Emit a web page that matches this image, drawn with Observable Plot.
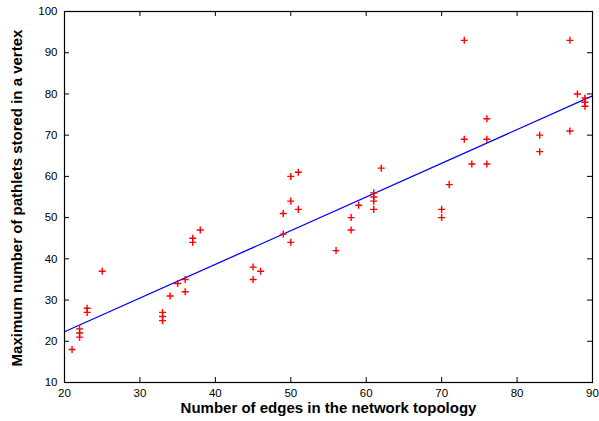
<!DOCTYPE html>
<html>
<head>
<meta charset="utf-8">
<script src="https://cdn.jsdelivr.net/npm/d3@7"></script>
<script src="https://cdn.jsdelivr.net/npm/@observablehq/plot@0.6"></script>
<style>
  html, body { margin: 0; padding: 0; background: #fff; }
</style>
</head>
<body>
<div id="chart"></div>
<script>
// Data
const edges =    [21, 22, 22, 22, 23, 23, 25, 33, 33, 33, 34, 35, 36, 36, 37, 37, 38, 45, 45, 46, 49, 49, 50, 50, 50, 51, 51, 56, 58, 58, 59, 61, 61, 61, 61, 62, 70, 70, 71, 73, 73, 74, 76, 76, 76, 83, 83, 87, 87, 88, 89, 89, 89];
const pathlets = [18, 23, 22, 21, 28, 27, 37, 27, 26, 25, 31, 34, 35, 32, 45, 44, 47, 38, 35, 37, 51, 46, 60, 54, 44, 61, 52, 42, 50, 47, 53, 56, 55, 54, 52, 62, 52, 50, 58, 93, 69, 63, 74, 69, 63, 70, 66, 93, 71, 80, 79, 78, 77];

const xDomain = [20, 90];
const yDomain = [10, 100];
const xTicks = [20, 30, 40, 50, 60, 70, 80, 90];
const yTicks = [10, 20, 30, 40, 50, 60, 70, 80, 90, 100];

const xTitle = "Number of edges in the network topology";
const yTitle = "Maximum number of pathlets stored in a vertex";

const points = edges.map((x, i) => ({x, y: pathlets[i]}));

// least-squares fit of the points, drawn across the whole x domain
const mx = d3.mean(edges), my = d3.mean(pathlets);
const sxy = d3.sum(points, d => (d.x - mx) * (d.y - my));
const sxx = d3.sum(points, d => (d.x - mx) ** 2);
const slope = sxy / sxx, intercept = my - slope * mx;
const fitLine = xDomain.map(x => ({x, y: intercept + slope * x}));

const W = 599, H = 421, mL = 64, mR = 7, mT = 11, mB = 39;
const plotW = W - mL - mR, plotH = H - mT - mB;
const tick = 5;

const chart = Plot.plot({
  width: W, height: H,
  marginLeft: mL, marginRight: mR, marginTop: mT, marginBottom: mB,
  x: {domain: xDomain},
  y: {domain: yDomain},
  style: {fontFamily: "'Liberation Sans', Arial, sans-serif", fontSize: "11.5px", background: "#fff", color: "#000", overflow: "visible"},
  marks: [
    // inward ticks on all four sides
    Plot.tickX(xTicks, {x: d => d, insetTop: plotH - tick, stroke: "#000"}),
    Plot.tickX(xTicks, {x: d => d, insetBottom: plotH - tick, stroke: "#000"}),
    Plot.tickY(yTicks, {y: d => d, insetRight: plotW - tick, stroke: "#000"}),
    Plot.tickY(yTicks, {y: d => d, insetLeft: plotW - tick, stroke: "#000"}),
    Plot.axisX(xTicks, {tickSize: 0, tickPadding: 6, label: null}),
    Plot.axisY(yTicks, {tickSize: 0, tickPadding: 7, label: null}),
    Plot.line(fitLine, {x: "x", y: "y", stroke: "#0000ff", strokeWidth: 1.3}),
    Plot.dot(points, {x: "x", y: "y", symbol: "plus", r: 2.4, stroke: "#ff0000", strokeWidth: 1.4}),
    Plot.frame({stroke: "#000", strokeWidth: 1.2}),
    Plot.text([xTitle], {text: d => d, frameAnchor: "bottom", textAnchor: "middle", dy: 30, fontWeight: "bold", fontSize: 15}),
    Plot.text([yTitle], {text: d => d, frameAnchor: "left", textAnchor: "middle", dx: -47, dy: 1, rotate: -90, fontWeight: "bold", fontSize: 15})
  ]
});
document.getElementById("chart").appendChild(chart);
</script>
</body>
</html>
